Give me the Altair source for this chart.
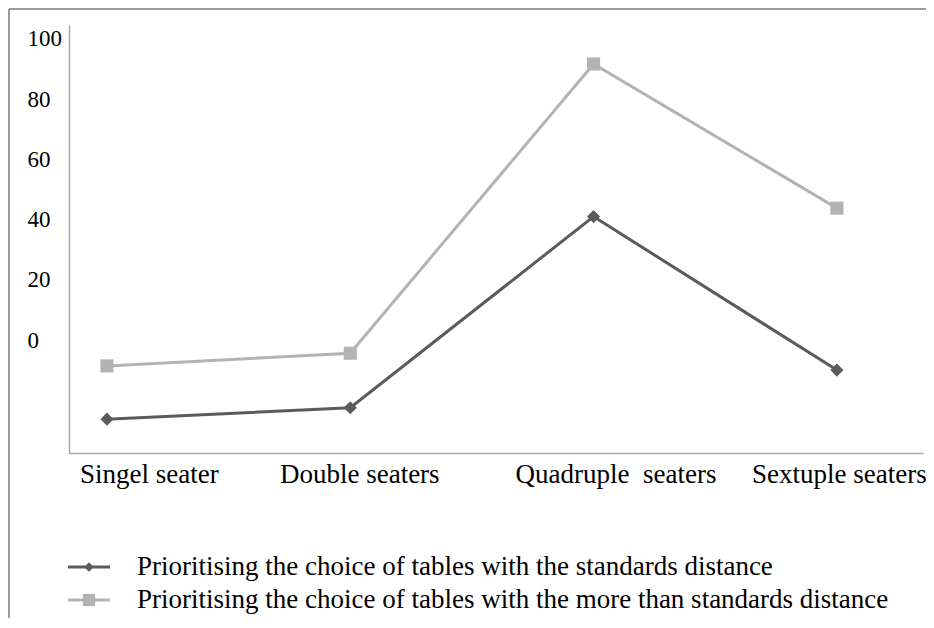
import json
import altair as alt
import pandas as pd

categories = ["Singel seater", "Double seaters", "Quadruple\u00a0 seaters", "Sextuple seaters"]
series_names = [
    "Prioritising the choice of tables with the standards distance",
    "Prioritising the choice of tables with the more than standards distance",
]
standard_values = [-26.3, -22.5, 41.0, -10.0]
more_values = [-8.6, -4.4, 91.7, 43.8]
y_ticks = [0, 20, 40, 60, 80, 100]
label_offsets = [42, 9, 22, 2]

rows = []
for i, (cat, a, b) in enumerate(zip(categories, standard_values, more_values)):
    rows.append({"idx": i, "category": cat, "series": series_names[0], "value": a})
    rows.append({"idx": i, "category": cat, "series": series_names[1], "value": b})
df = pd.DataFrame(rows)
legend_df = pd.DataFrame({"series": series_names})

FONT = "Liberation Serif"
series_colors = ["#5b5b5b", "#b3b3b3"]
marker_shapes = ["diamond", "square"]
AXIS_GRAY = "#a6a6a6"

x_enc = alt.X(
    "idx:Q",
    scale=alt.Scale(domain=[-0.156, 3.354], nice=False, zero=False),
    axis=alt.Axis(
        values=[0, 1, 2, 3],
        labelExpr=f"{json.dumps(categories)}[datum.value]",
        title=None, grid=False, ticks=False, tickSize=0,
        labelPadding=29, labelBaseline="alphabetic",
        labelFontSize=27, labelFont=FONT, labelColor="black",
        domainColor=AXIS_GRAY, domainWidth=1.5,
        labelFlush=False, labelOverlap=False, labelBound=False, labelLimit=0,
        labelOffset={
            "condition": [
                {"test": "datum.value == 0", "value": label_offsets[0]},
                {"test": "datum.value == 2", "value": label_offsets[2]},
                {"test": "datum.value == 3", "value": label_offsets[3]},
            ],
            "value": label_offsets[1],
        },
    ),
)
y_enc = alt.Y(
    "value:Q",
    scale=alt.Scale(domain=[-37.54, 104.65], nice=False, zero=False),
    axis=alt.Axis(
        values=y_ticks, title=None, grid=False, ticks=False, tickSize=0,
        labelAlign="left", labelPadding=42, labelFontSize=23, labelFont=FONT,
        labelColor="black", domainColor=AXIS_GRAY, domainWidth=1.5, labelFlush=False,
    ),
)

color_scale = alt.Scale(domain=series_names, range=series_colors)
shape_scale = alt.Scale(domain=series_names, range=marker_shapes)

lines = alt.Chart(df).mark_line(strokeWidth=3).encode(
    x=x_enc, y=y_enc,
    color=alt.Color("series:N", scale=color_scale, legend=None),
    order="idx:Q",
)
points = alt.Chart(df).mark_point(filled=True, size=172, opacity=1).encode(
    x=x_enc, y=y_enc,
    color=alt.Color("series:N", scale=color_scale, legend=None),
    shape=alt.Shape("series:N", scale=shape_scale, legend=None),
)
main = alt.layer(lines, points)

# legend drawn with marks: one row per series on its own point scale
legend_y = alt.Y("series:N", scale=alt.Scale(type="point", domain=series_names,
                                               range=[542, 575], padding=0), axis=None)
leg_line = alt.Chart(legend_df).mark_rule(strokeWidth=3).encode(
    x=alt.value(-1), x2=alt.value(41), y=legend_y,
    color=alt.Color("series:N", scale=color_scale, legend=None),
)
leg_marker = alt.Chart(legend_df).mark_point(filled=True, opacity=1).encode(
    x=alt.value(20), y=legend_y,
    color=alt.Color("series:N", scale=color_scale, legend=None),
    shape=alt.Shape("series:N", scale=shape_scale, legend=None),
    size=alt.Size("series:N", scale=alt.Scale(domain=series_names, range=[90, 150]), legend=None),
)
leg_text = alt.Chart(legend_df).mark_text(
    align="left", baseline="middle", fontSize=27, font=FONT, color="black"
).encode(x=alt.value(68), y=legend_y, text="series:N")
legend = alt.layer(leg_line, leg_marker, leg_text)

frame_data = alt.Data(values=[{"k": 1}])
frame_top = alt.Chart(frame_data).mark_rule(color="#9a9a9a", strokeWidth=2).encode(
    x=alt.value(-60), x2=alt.value(870), y=alt.value(-16)
)
frame_left = alt.Chart(frame_data).mark_rule(color="#9a9a9a", strokeWidth=2).encode(
    x=alt.value(-60), y=alt.value(-16), y2=alt.value(620)
)

chart = alt.layer(frame_top, frame_left, main, legend).resolve_scale(
    y="independent"
).properties(
    width=854, height=428,
    padding={"left": 61, "top": 17, "right": 3, "bottom": 165},
    autosize="none",
).configure_view(stroke=None)

chart.save("out.html", embed_options={"renderer": "svg", "actions": False})
